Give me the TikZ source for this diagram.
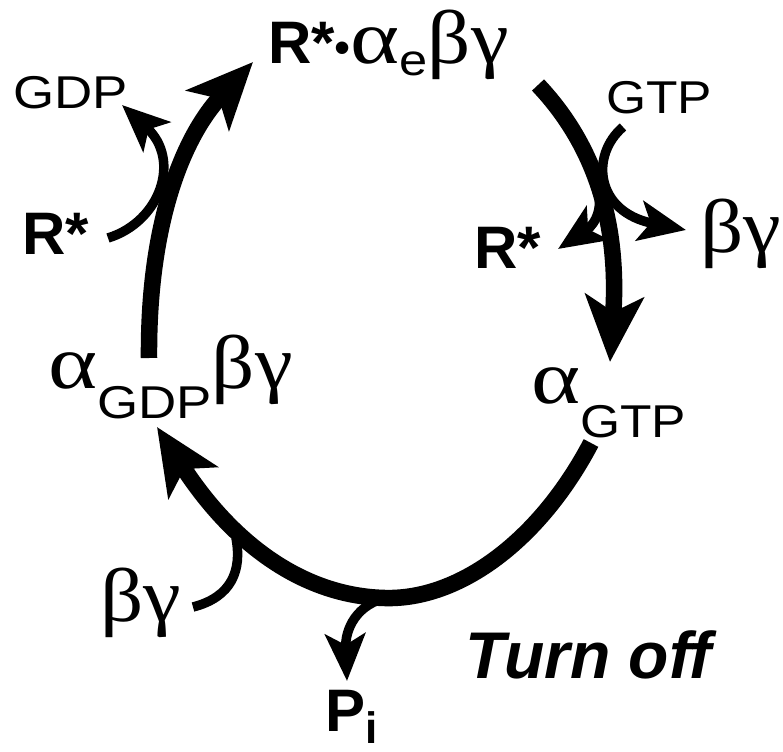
\documentclass[tikz,border=0pt]{standalone}
\usepackage{fontspec}
\usepackage{graphicx}
\setmainfont{Liberation Sans}
\newfontfamily\gkfam{Liberation Serif}
\usetikzlibrary{arrows.meta}
\newcommand\gkt[1]{\scalebox{1.12}[1]{\gkfam\fontsize{76}{78}\selectfont #1}}
\newcommand\alp{\scalebox{1.1}[1]{\gkt{α}}}
\newcommand\slab[3]{\scalebox{#1}[1]{\fontsize{#2}{#2}\selectfont #3}}
\newcommand\bsf{\fontsize{60}{62}\selectfont\bfseries}
\tikzset{
  mainline/.style={line width=16.5pt},
  sideline/.style={line width=9.5pt},
  bighead/.tip={Stealth[length=66pt,width=58pt,inset=16pt]},
  smallhead/.tip={Stealth[length=47pt,width=40pt,inset=11pt]},
  lbl/.style={anchor=base west, inner sep=0pt, outer sep=0pt}
}
\begin{document}
\begin{tikzpicture}[x=1pt,y=-1pt]
\useasboundingbox (0,0) rectangle (783,751);
% labels
\node[lbl] (tit) at (268,64) {{\bsf R*}{\fontsize{46}{46}\selectfont •}\alp\raisebox{-12pt}{\slab{1.15}{44}{e}}\gkt{βγ}};
\node[lbl] (gdp) at (13,109) {\slab{1.15}{46}{GDP}};
\node[lbl] (rl) at (22,254) {\bsf R*};
\node[lbl] (gtp) at (606,114) {\slab{1.12}{46}{GTP}};
\node[lbl] (rr) at (474,268) {\bsf R*};
\node[lbl] (bgr) at (700,252) {\gkt{βγ}};
\node[lbl] (agdp) at (48,388) {\alp\raisebox{-30pt}{\slab{1.15}{46}{GDP}}\gkt{βγ}};
\node[lbl] (agtp) at (531,403) {\alp\raisebox{-34pt}{\slab{1.12}{46}{GTP}}};
\node[lbl] (bgl) at (100,621) {\gkt{βγ}};
\node[lbl] (pi) at (325,731) {{\bsf P}\raisebox{-12pt}{\fontsize{44}{44}\selectfont\bfseries i}};
\node[lbl] (off) at (465,678) {\fontsize{66}{66}\selectfont\bfseries\itshape Turn off};
% connector end points
\coordinate (a1) at (149,358);
\coordinate (a2) at (253,62);
\coordinate (b1) at (108,238);
\coordinate (b2) at (122,105);
\coordinate (c1) at (538,85);
\coordinate (c2) at (610,362);
\coordinate (d1) at (623,127);
\coordinate (d2) at (686,230);
\coordinate (e1) at (598,190);
\coordinate (e2) at (558,249);
\coordinate (f1) at (591,443);
\coordinate (fm) at (385,598);
\coordinate (f2) at (157,427);
\coordinate (g1) at (193,607);
\coordinate (g2) at (236,538);
\coordinate (h1) at (390,597);
\coordinate (h2) at (347,681);
% connectors
\draw[mainline,-{bighead}] (a1) .. controls (148,230) and (180,140) .. (a2);
\draw[sideline,-{smallhead}] (b1) .. controls (160,222) and (182,160) .. (b2);
\draw[mainline,-{bighead}] (c1) .. controls (590,140) and (620,215) .. (c2);
\draw[sideline,-{smallhead}] (d1) .. controls (590,155) and (595,212) .. (d2);
\draw[sideline,-{smallhead}] (e1) .. controls (604,215) and (590,228) .. (e2);
\draw[mainline,-{bighead}] (f1) .. controls (540,540) and (460,600) .. (fm) .. controls (300,596) and (230,540) .. (f2);
\draw[sideline] (g1) .. controls (232,597) and (242,570) .. (g2);
\draw[sideline,-{smallhead}] (h1) .. controls (356,603) and (345,630) .. (h2);
\end{tikzpicture}
\end{document}
